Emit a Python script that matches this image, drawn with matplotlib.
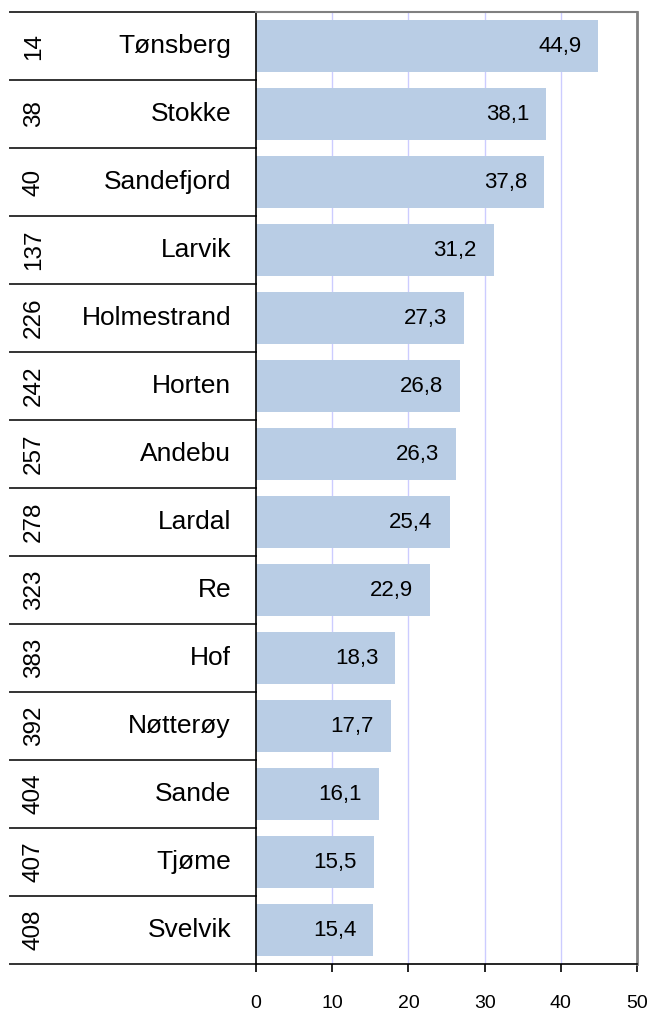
import matplotlib
matplotlib.use("Agg")
import matplotlib.pyplot as plt
import matplotlib.transforms as mtransforms

plt.rcParams['font.family'] = ['Liberation Sans', 'DejaVu Sans']

ranks = [14, 38, 40, 137, 226, 242, 257, 278, 323, 383, 392, 404, 407, 408]
names = ["Tønsberg", "Stokke", "Sandefjord", "Larvik", "Holmestrand", "Horten",
         "Andebu", "Lardal", "Re", "Hof", "Nøtterøy", "Sande", "Tjøme", "Svelvik"]
values = [44.9, 38.1, 37.8, 31.2, 27.3, 26.8, 26.3, 25.4, 22.9, 18.3, 17.7, 16.1, 15.5, 15.4]
xticks = [0, 10, 20, 30, 40, 50]

W, H = 652, 1010
fig = plt.figure(figsize=(W / 100, H / 100), dpi=100)
ax_left, ax_right, ax_top, ax_bot = 256, 637, 12, 964
ax = fig.add_axes([ax_left / W, (H - ax_bot) / H, (ax_right - ax_left) / W, (ax_bot - ax_top) / H])

n = len(values)
pos = list(range(n))
ax.barh(pos, values, height=0.765, color='#B9CDE5', zorder=2)
ax.set_ylim(n - 0.5, -0.5)
ax.set_xlim(0, 50)

# gridlines
for t in xticks[1:-1]:
    ax.axvline(t, color='#CCCCFF', lw=1.0, zorder=1)

# spines
ax.spines['top'].set_color('#808080')
ax.spines['right'].set_color('#808080')
ax.spines['right'].set_linewidth(2.0)
ax.spines['top'].set_linewidth(1.5)
ax.spines['left'].set_color('black')
ax.spines['bottom'].set_color('black')
ax.spines['left'].set_linewidth(1.2)
ax.spines['bottom'].set_linewidth(1.2)

ax.set_xticks(xticks)
ax.set_xticklabels([str(t) for t in xticks], fontsize=14)
ax.tick_params(axis='x', direction='out', length=6, width=1.2, pad=16, color='black')
ax.set_yticks([])

# value labels
px = 50 / (ax_right - ax_left)  # data units per pixel
for i, v in enumerate(values):
    ax.text(v - 17 * px, i, f"{v:.1f}".replace('.', ','), ha='right', va='center',
            fontsize=16, color='black', zorder=3)

# table on left
trans = mtransforms.blended_transform_factory(ax.transAxes, ax.transData)
ax_w = ax_right - ax_left
x_line0 = (10 - ax_left) / ax_w
for b in range(n + 1):
    y = b - 0.5
    ax.plot([x_line0, 0], [y, y], color='#333333', lw=1.4, transform=trans, clip_on=False)

x_rank = (34 - ax_left) / ax_w
x_name = (231 - ax_left) / ax_w
for i, (r, nm) in enumerate(zip(ranks, names)):
    ax.text(x_rank, i, str(r), rotation=90, ha='center', va='center', fontsize=17.5,
            transform=trans, clip_on=False)
    ax.text(x_name, i, nm, ha='right', va='center', fontsize=19,
            transform=trans, clip_on=False)

fig.savefig("out.png", dpi=100)
